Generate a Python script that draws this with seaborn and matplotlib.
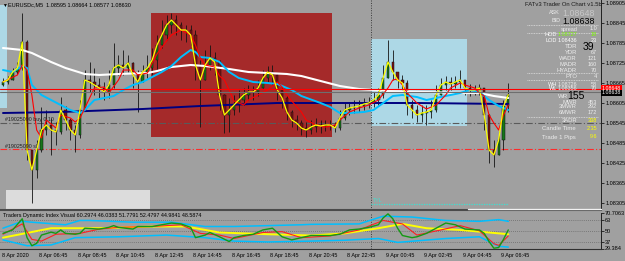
import numpy as np
import pandas as pd
import matplotlib
matplotlib.use("Agg")
import matplotlib.pyplot as plt
import seaborn as sns
from matplotlib.patches import Rectangle
from matplotlib.lines import Line2D

sns.set_style("white")
plt.rcParams['font.family'] = ['Liberation Sans', 'DejaVu Sans']

# ---------------- data ----------------
symbol_title = "EURUSDc,M5  1.08595 1.08664 1.08577 1.08630"
first_bar_hour = 4.75      # 8 Apr 04:45, 15-minute bars, hours counted from 8 Apr 00:00
bar_hours = 0.25

close = [1.08668, 1.08674, 1.08698, 1.08710, 1.08788, 1.08464, 1.08404, 1.08464, 1.08524, 1.08539,
         1.08524, 1.08518, 1.08584, 1.08554, 1.08524, 1.08509, 1.08584, 1.08674, 1.08668, 1.08659,
         1.08650, 1.08638, 1.08659, 1.08710, 1.08719, 1.08710, 1.08725, 1.08689, 1.08668, 1.08698,
         1.08710, 1.08734, 1.08779, 1.08809, 1.08839, 1.08854, 1.08839, 1.08824, 1.08824, 1.08809,
         1.08719, 1.08674, 1.08719, 1.08740, 1.08728, 1.08629, 1.08569, 1.08584, 1.08599, 1.08614,
         1.08629, 1.08638, 1.08638, 1.08650, 1.08680, 1.08698, 1.08689, 1.08644, 1.08620, 1.08578,
         1.08554, 1.08545, 1.08530, 1.08524, 1.08533, 1.08539, 1.08536, 1.08539, 1.08539, 1.08530,
         1.08560, 1.08584, 1.08590, 1.08593, 1.08596, 1.08602, 1.08605, 1.08614, 1.08629, 1.08680,
         1.08728, 1.08698, 1.08674, 1.08665, 1.08599, 1.08584, 1.08569, 1.08575, 1.08578, 1.08584,
         1.08629, 1.08659, 1.08668, 1.08662, 1.08668, 1.08674, 1.08650, 1.08644, 1.08644, 1.08650,
         1.08569, 1.08464, 1.08449, 1.08494, 1.08595, 1.08630]
high = [1.08680, 1.08686, 1.08710, 1.08728, 1.08875, 1.08794, 1.08464, 1.08494, 1.08593, 1.08584,
        1.08560, 1.08548, 1.08623, 1.08596, 1.08560, 1.08539, 1.08614, 1.08704, 1.08728, 1.08710,
        1.08680, 1.08668, 1.08704, 1.08785, 1.08749, 1.08764, 1.08749, 1.08728, 1.08704, 1.08719,
        1.08749, 1.08770, 1.08809, 1.08854, 1.08869, 1.08875, 1.08869, 1.08848, 1.08839, 1.08839,
        1.08824, 1.08734, 1.08764, 1.08779, 1.08758, 1.08734, 1.08632, 1.08620, 1.08629, 1.08644,
        1.08650, 1.08659, 1.08656, 1.08674, 1.08704, 1.08716, 1.08719, 1.08692, 1.08659, 1.08629,
        1.08584, 1.08569, 1.08554, 1.08548, 1.08554, 1.08560, 1.08554, 1.08554, 1.08554, 1.08548,
        1.08584, 1.08605, 1.08608, 1.08614, 1.08614, 1.08620, 1.08623, 1.08638, 1.08650, 1.08719,
        1.08794, 1.08764, 1.08698, 1.08689, 1.08674, 1.08614, 1.08599, 1.08599, 1.08599, 1.08614,
        1.08659, 1.08680, 1.08686, 1.08683, 1.08686, 1.08704, 1.08674, 1.08662, 1.08659, 1.08662,
        1.08650, 1.08572, 1.08494, 1.08518, 1.08614, 1.08664]
low = [1.08656, 1.08662, 1.08674, 1.08692, 1.08705, 1.08434, 1.08305, 1.08380, 1.08458, 1.08509,
       1.08449, 1.08479, 1.08512, 1.08524, 1.08494, 1.08458, 1.08500, 1.08584, 1.08638, 1.08629,
       1.08620, 1.08614, 1.08620, 1.08650, 1.08689, 1.08689, 1.08698, 1.08650, 1.08578, 1.08668,
       1.08680, 1.08689, 1.08704, 1.08770, 1.08794, 1.08815, 1.08809, 1.08794, 1.08788, 1.08779,
       1.08674, 1.08533, 1.08674, 1.08704, 1.08689, 1.08584, 1.08515, 1.08518, 1.08569, 1.08578,
       1.08599, 1.08614, 1.08614, 1.08626, 1.08650, 1.08668, 1.08659, 1.08614, 1.08590, 1.08554,
       1.08533, 1.08524, 1.08509, 1.08503, 1.08512, 1.08518, 1.08515, 1.08521, 1.08524, 1.08518,
       1.08524, 1.08555, 1.08569, 1.08575, 1.08578, 1.08584, 1.08590, 1.08593, 1.08599, 1.08620,
       1.08680, 1.08674, 1.08650, 1.08644, 1.08569, 1.08560, 1.08548, 1.08548, 1.08539, 1.08560,
       1.08578, 1.08629, 1.08644, 1.08644, 1.08650, 1.08650, 1.08629, 1.08626, 1.08629, 1.08629,
       1.08524, 1.08425, 1.08413, 1.08449, 1.08464, 1.08577]
first_open = 1.08660

# moving averages (bar index, price)
red_ma_idx = [0, 3, 4, 5, 6, 7, 8, 9, 11, 12, 14, 15, 16, 18, 19, 21, 22, 24, 25, 27,
              28, 30, 31, 32, 34, 35, 37, 39, 40, 41, 42, 44, 45, 46, 47, 48, 50, 51, 53, 55,
              57, 58, 59, 60, 62, 63, 65, 67, 69, 70, 72, 74, 76, 78, 80, 81, 82, 83, 84, 85,
              86, 88, 90, 91, 92, 93, 95, 96, 98, 99, 100, 101, 102, 103, 104, 105]
red_ma = [1.08668, 1.08689, 1.08719, 1.08704, 1.08629, 1.08524, 1.08500, 1.08554, 1.08530, 1.08569,
          1.08560, 1.08548, 1.08560, 1.08620, 1.08650, 1.08653, 1.08635, 1.08674, 1.08704, 1.08704,
          1.08689, 1.08695, 1.08725, 1.08752, 1.08791, 1.08809, 1.08824, 1.08809, 1.08779, 1.08740,
          1.08719, 1.08713, 1.08686, 1.08674, 1.08644, 1.08611, 1.08599, 1.08614, 1.08629, 1.08644,
          1.08668, 1.08653, 1.08629, 1.08611, 1.08578, 1.08554, 1.08539, 1.08533, 1.08539, 1.08554,
          1.08578, 1.08590, 1.08599, 1.08614, 1.08650, 1.08674, 1.08677, 1.08659, 1.08635, 1.08620,
          1.08605, 1.08587, 1.08599, 1.08614, 1.08629, 1.08650, 1.08665, 1.08659, 1.08650, 1.08635,
          1.08626, 1.08569, 1.08545, 1.08524, 1.08569, 1.08599]
cyan_ma_idx = [0, 2, 4, 5, 6, 8, 10, 12, 14, 16, 17, 19, 21, 23, 25, 27, 29, 31, 33, 35,
               37, 39, 40, 41, 43, 45, 47, 49, 52, 55, 57, 60, 62, 66, 68, 70, 72, 75, 77, 79,
               81, 83, 86, 88, 91, 95, 97, 99, 101, 103, 105]
cyan_ma = [1.08704, 1.08698, 1.08716, 1.08710, 1.08659, 1.08629, 1.08614, 1.08599, 1.08584, 1.08575,
           1.08584, 1.08614, 1.08620, 1.08626, 1.08644, 1.08659, 1.08668, 1.08683, 1.08698, 1.08716,
           1.08743, 1.08764, 1.08758, 1.08743, 1.08740, 1.08728, 1.08698, 1.08680, 1.08668, 1.08665,
           1.08662, 1.08644, 1.08626, 1.08605, 1.08593, 1.08575, 1.08575, 1.08578, 1.08584, 1.08605,
           1.08626, 1.08629, 1.08623, 1.08614, 1.08623, 1.08635, 1.08644, 1.08638, 1.08614, 1.08596,
           1.08584]
white_ma_idx = [0, 4, 6, 10, 13, 17, 20, 24, 30, 32, 35, 39, 42, 47, 51, 59, 62, 66, 70, 74,
                80, 88, 95, 99, 102, 105]
white_ma = [1.08770, 1.08764, 1.08755, 1.08728, 1.08710, 1.08692, 1.08689, 1.08692, 1.08695, 1.08701,
            1.08713, 1.08719, 1.08716, 1.08707, 1.08698, 1.08692, 1.08686, 1.08671, 1.08656, 1.08647,
            1.08641, 1.08638, 1.08635, 1.08635, 1.08626, 1.08620]
navy_ma_idx = [0, 12, 29, 41, 57, 86, 105]
navy_ma = [1.08575, 1.08578, 1.08587, 1.08596, 1.08605, 1.08605, 1.08602]

ask_price = 1.08648
bid_price = 1.08638
order_open = 1.08545
order_sl = 1.08467
tyl_level = 1.08302
day_separator_hour = 24.0

red_box = (12.56, 21.97, 1.08503, 1.08875)
blue_box = (24.0, 29.0, 1.08536, 1.08797)
gray_box = (5.03, 12.51, 1.08200, 1.08344)
strip_box = (4.5, 5.08, 1.08590, 1.08899)

price_ticks = [1.08305, 1.08365, 1.08425, 1.08485, 1.08545, 1.08605, 1.08665, 1.08725, 1.08785, 1.08845, 1.08905]

# Traders Dynamic Index
tdi_green_idx = [0, 2, 4, 5, 6, 7, 8, 10, 11, 12, 13, 15, 16, 17, 20, 22, 23, 24, 27, 28,
                 31, 33, 35, 37, 39, 40, 42, 43, 45, 47, 48, 50, 52, 54, 56, 57, 58, 60, 62, 64,
                 68, 70, 72, 74, 76, 78, 79, 80, 81, 82, 83, 85, 86, 88, 90, 92, 94, 96, 99, 100,
                 101, 102, 103, 104, 105]
tdi_green = [47, 51, 64, 42, 32.6, 35.4, 45, 48.4, 47, 51, 47, 46, 47, 53, 52, 54, 56, 54, 52, 55,
             55, 57, 59, 58, 54, 42, 45, 48, 43, 37.5, 42, 44.5, 46, 51, 53, 48, 43, 39.4, 42, 44.5,
             44.5, 46, 51, 52, 54, 57, 65, 69.7, 64, 53, 44.5, 42, 43, 47, 53, 59, 57, 52, 51, 47,
             37.5, 29.7, 30.5, 40, 51]
tdi_red_idx = [0, 4, 6, 8, 11, 16, 20, 24, 31, 37, 41, 45, 48, 54, 58, 62, 68, 74, 79, 83,
               86, 91, 95, 99, 102, 103, 105]
tdi_red = [46, 58, 40, 38, 46, 47, 52, 54, 55, 57, 47, 45, 41, 48, 49, 42, 44, 51, 62, 58,
           45, 51, 56, 50, 35, 33, 44]
tdi_yellow_idx = [0, 10, 20, 31, 38, 45, 55, 64, 71, 78, 83, 88, 95, 103, 105]
tdi_yellow = [42, 53, 53, 55, 55, 48, 46, 44.5, 47, 53, 58, 53, 51, 47, 46]
tdi_up_idx = [0, 4, 6, 13, 16, 18, 27, 35, 42, 48, 55, 62, 64, 74, 79, 85, 92, 99, 103, 105]
tdi_up = [53, 61, 60, 57, 62, 62, 60, 60, 55, 55, 56, 57, 57.5, 58, 67, 66, 62, 61, 63, 61]
tdi_lo_idx = [0, 5, 10, 15, 24, 34, 42, 48, 55, 64, 71, 78, 82, 92, 99, 103, 105]
tdi_lo = [39.4, 32.6, 33.5, 42, 43, 45, 42, 38, 37, 38, 39, 41, 36.5, 41, 43, 32, 31]
tdi_levels = [37, 50, 63]
tdi_range = (29.384, 70.7063)
tdi_ticks = [29.384, 37, 50, 63, 70.7063]
tdi_tick_labels = ["29.384", "37", "50", "63", "70.7063"]
tdi_title = "Traders Dynamic Index Visual 60.2974 46.0383 51.7791 52.4797 44.9841 48.5874"

time_ticks = [4.82, 6.75, 8.75, 10.75, 12.75, 14.75, 16.75, 18.75, 20.75, 22.75,
              24.75, 26.75, 28.75, 30.75]
time_labels = ["8 Apr 2020", "8 Apr 06:45", "8 Apr 08:45", "8 Apr 10:45", "8 Apr 12:45",
               "8 Apr 14:45", "8 Apr 16:45", "8 Apr 18:45", "8 Apr 20:45", "8 Apr 22:45",
               "9 Apr 00:45", "9 Apr 02:45", "9 Apr 04:45", "9 Apr 06:45"]

# ---------------- figure ----------------
W, H = 625, 261
BG = "#a0a0a0"
fig = plt.figure(figsize=(W / 100, H / 100), dpi=100, facecolor=BG)

def fx(px):
    return px / W

def fy(py):
    return 1 - py / H

ax = fig.add_axes([0, fy(210), fx(601), 210 / H], facecolor=BG)
axt = fig.add_axes([0, fy(248.5), fx(601), 35.5 / H], facecolor=BG)

t = first_bar_hour + bar_hours / 2 + bar_hours * np.arange(len(close))
df = pd.DataFrame({"t": t, "close": close, "high": high, "low": low})
df["open"] = [first_open] + close[:-1]

xlim = (4.72, 4.72 + 601 / 19.25)
ax.set_xlim(*xlim)
ax.set_ylim(1.08284, 1.08914)

def box(a, spec, color, z=1):
    x0, x1, y0, y1 = spec
    a.add_patch(Rectangle((x0, y0), x1 - x0, y1 - y0, facecolor=color, edgecolor="none", zorder=z))

box(ax, red_box, "#a52a2a")
box(ax, blue_box, "#add8e6")
box(ax, gray_box, "#dcdcdc")
box(ax, strip_box, "#add8e6")

# horizontal lines
ax.axhline(order_open, color="#5a5a5a", lw=0.8, ls=(0, (6, 2, 1, 2)), zorder=2)
ax.axhline(order_sl, color="#ff2a2a", lw=0.8, ls=(0, (6, 2, 1, 2)), zorder=2)
ax.axvline(day_separator_hour, color="#3a3a3a", lw=0.7, ls=(0, (1, 1.5)), zorder=2)
axt.axvline(day_separator_hour, color="#3a3a3a", lw=0.7, ls=(0, (1, 1.5)), zorder=2)
ax.plot([day_separator_hour, df.t.iloc[-1]], [tyl_level, tyl_level], color="#40e0d0",
        lw=0.9, ls=(0, (1, 1)), zorder=2)

# candles
ax.vlines(df.t, df.low, df.high, color="#141414", lw=0.6, zorder=3)
up = df.close >= df.open
body = (df.close - df.open)
ax.bar(df.t[up], body[up], bottom=df.open[up], width=0.12, color="#16761a",
       edgecolor="#111111", lw=0.35, zorder=4)
ax.bar(df.t[~up], body[~up], bottom=df.open[~up], width=0.12, color="#7a1010",
       edgecolor="#111111", lw=0.35, zorder=4)

# moving averages
def line(a, idx, vals, color, lw, z):
    sns.lineplot(x=t[idx], y=vals, ax=a, color=color, lw=lw, zorder=z, legend=False)

line(ax, navy_ma_idx, navy_ma, "#000080", 1.4, 5)
line(ax, white_ma_idx, white_ma, "#ffffff", 1.5, 5)
line(ax, cyan_ma_idx, cyan_ma, "#00bfff", 1.4, 6)
line(ax, red_ma_idx, red_ma, "#ff0000", 0.8, 7)
sns.lineplot(x=df.t, y=df.close, ax=ax, color="#ffff00", lw=0.9, zorder=8, legend=False)

ax.axhline(bid_price, color="#6e6e6e", lw=0.8, zorder=9)
ax.axhline(ask_price, color="#ff0000", lw=0.8, zorder=9)

ax.set_xticks([])
ax.set_xlabel("")
ax.set_ylabel("")
ax.yaxis.tick_right()
ax.set_yticks(price_ticks)
ax.set_yticklabels([f"{p:.5f}" for p in price_ticks])
ax.tick_params(axis="y", labelsize=4, length=2, pad=1, colors="black", width=0.5)
for s in ["top", "left"]:
    ax.spines[s].set_visible(False)
ax.spines["right"].set_color("#202020")
ax.spines["right"].set_linewidth(0.7)
ax.spines["bottom"].set_color("#4a4a4a")
ax.spines["bottom"].set_linewidth(1.5)

# TDI panel
axt.set_xlim(*xlim)
axt.set_ylim(*tdi_range)
for lv in tdi_levels:
    axt.axhline(lv, color="#6a6a6a", lw=0.6, ls=(0, (1, 1.5)), zorder=1)
line(axt, tdi_up_idx, tdi_up, "#00bfff", 1.1, 3)
line(axt, tdi_lo_idx, tdi_lo, "#00bfff", 1.1, 3)
line(axt, tdi_yellow_idx, tdi_yellow, "#ffff00", 1.4, 4)
line(axt, tdi_red_idx, tdi_red, "#ff2020", 0.8, 5)
line(axt, tdi_green_idx, tdi_green, "#139a13", 1.0, 6)
axt.set_ylabel("")
axt.set_xlabel("")
axt.yaxis.tick_right()
axt.set_yticks(tdi_ticks)
axt.set_yticklabels(tdi_tick_labels)
axt.tick_params(axis="y", labelsize=4, length=2, pad=1, colors="black", width=0.5)
axt.set_xticks(time_ticks)
axt.set_xticklabels(time_labels)
axt.tick_params(axis="x", labelsize=4, length=2, pad=1.2, colors="black", width=0.5)
for lab in axt.get_xticklabels():
    lab.set_ha("left")
for s in ["top", "left"]:
    axt.spines[s].set_visible(False)
axt.spines["right"].set_color("#202020")
axt.spines["right"].set_linewidth(0.7)
axt.spines["bottom"].set_color("#303030")
axt.spines["bottom"].set_linewidth(0.8)

# ---------------- texts ----------------
def ftext(x, y, s, color="black", size=4, ha="left", **kw):
    fig.text(fx(x), fy(y), s, color=color, fontsize=size, ha=ha, va="center", **kw)

ftext(2, 5, "▼", size=3.5)
ftext(8, 5, symbol_title)
ftext(3, 216, tdi_title, size=3.9)
ftext(5, 120, "#19025090 buy 0.10", color="#202020", size=3.8)
ftext(5, 146, "#19025090 sl", color="#202020", size=3.8)
ftext(373, 201, "TYL", color="#40e0d0", size=3.8)

# current price labels on the scale
ftext(602, 88, f"{ask_price:.5f}", color="white", size=3.8,
      bbox=dict(boxstyle="square,pad=0.15", fc="#ff0000", ec="none"))
ftext(602, 93, f"{bid_price:.5f}", color="white", size=3.8,
      bbox=dict(boxstyle="square,pad=0.15", fc="#000000", ec="none"))

LG = "#ececec"
ftext(525, 5, "FATv3 Trader On Chart v1.5b", color="#1a1a1a", size=4.2)
ftext(560, 13, "ASK", color=LG, size=3.9, ha="right")
ftext(595, 13, f"{ask_price:.5f}", color="#c8c8c8", size=6.4, ha="right")
ftext(560, 21, "BID", color=LG, size=3.9, ha="right")
ftext(595, 21, f"{bid_price:.5f}", color="black", size=6.4, ha="right")
ftext(578, 29, "spread", color=LG, size=4.0, ha="right")
ftext(597, 29, "1.0", color=LG, size=4.0, ha="right")
ftext(557, 35, "HOD", color="white", size=4.0, ha="right")
ftext(558, 35, "1.08727", color="#7cfc00", size=3.9)
ftext(597, 35, "18", color="#7cfc00", size=4.0, ha="right")
ftext(557, 41, "LOD", color="white", size=4.0, ha="right")
ftext(558, 41, "1.08436", color="white", size=3.9)
ftext(597, 41, "23", color="white", size=4.0, ha="right")
ftext(577, 47, "TDR", color=LG, size=4.4, ha="right")
ftext(594, 47, "39", color="black", size=7.5, ha="right")
rows = [("YDR", "67", 53), ("WADR", "121", 59), ("MADR", "160", 65), ("HYADR", "70", 70),
        ("PTO", "4", 77)]
for lab, val, y in rows:
    ftext(577, y, lab, color=LG, size=4.2, ha="right")
    ftext(597, y, val, color=LG, size=4.0, ha="right")
ftext(557, 84, "WH", color="white", size=4.0, ha="right")
ftext(558, 84, "1.08726", color=LG, size=3.9)
ftext(597, 84, "58", color=LG, size=4.0, ha="right")
ftext(557, 89, "WL", color="white", size=4.0, ha="right")
ftext(558, 89, "1.08356", color=LG, size=3.9)
ftext(597, 89, "70", color=LG, size=4.0, ha="right")
ftext(568, 96, "WR", color=LG, size=4.4, ha="right")
ftext(585, 96, "155", color="black", size=7.5, ha="right")
for lab, val, y in [("MWR", "453", 102), ("3MWR", "292", 107), ("6MWR", "172", 112)]:
    ftext(577, y, lab, color=LG, size=4.2, ha="right")
    ftext(597, y, val, color=LG, size=4.0, ha="right")
ftext(577, 121, "3ADR", color=LG, size=4.2, ha="right")
ftext(597, 121, "338", color="#ffff00", size=4.0, ha="right")
ftext(542, 129, "Candle Time", color=LG, size=4.3)
ftext(597, 129, "2:35", color="#ffff00", size=4.0, ha="right")
ftext(542, 137, "Trade 1 Pips", color=LG, size=4.3)
ftext(597, 137, "9.6", color="#ffff00", size=4.0, ha="right")

for y in [25, 33, 73, 80, 117]:
    fig.add_artist(Line2D([fx(527), fx(598)], [fy(y), fy(y)], color="#e0e0e0", lw=0.6,
                          ls=(0, (1, 1))))
fig.add_artist(Line2D([fx(468), fx(601)], [fy(208.5), fy(208.5)], color="#f2f2f2", lw=1.0))

fig.savefig("out.png", dpi=100, facecolor=BG)
